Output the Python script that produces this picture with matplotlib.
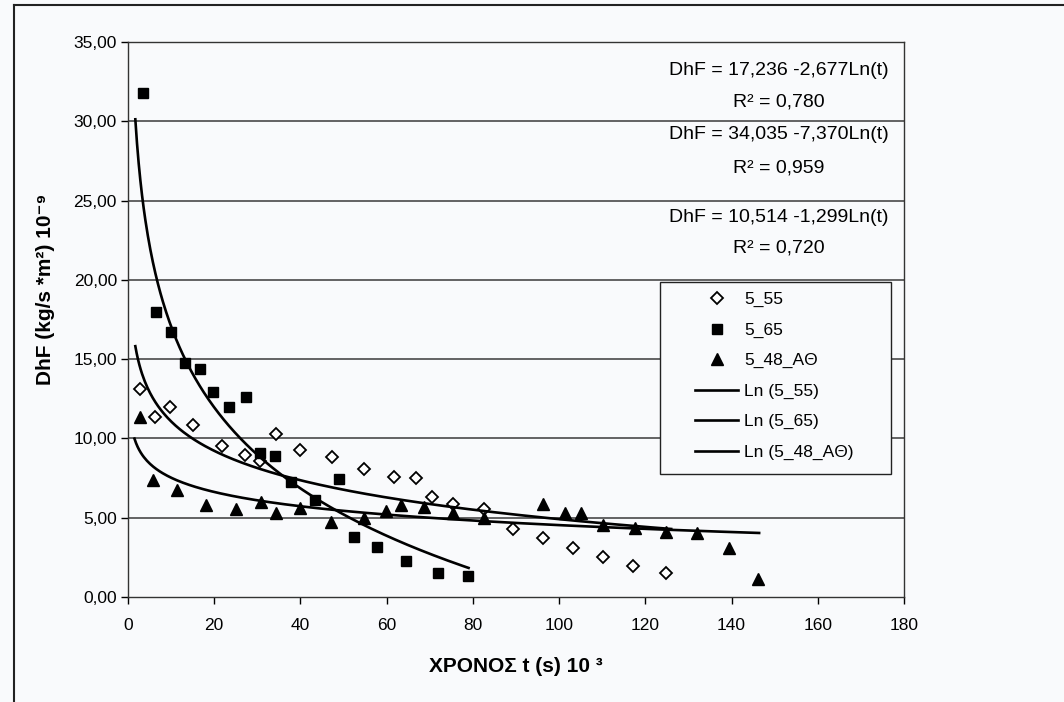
import numpy as np
import matplotlib.pyplot as plt
from matplotlib.patches import Rectangle
from matplotlib.lines import Line2D
from matplotlib.ticker import FuncFormatter

plt.rcParams['font.family'] = ['Liberation Sans', 'DejaVu Sans']

# --- data ---
t_555 = [2.75, 6.2, 9.7, 15.0, 21.8, 27.2, 30.6, 34.3, 39.9, 47.4, 54.7, 61.8,
         66.9, 70.6, 75.4, 82.5, 89.4, 96.3, 103.2, 110.1, 117.2, 124.8]
dhf_555 = [13.1, 11.35, 12.0, 10.85, 9.55, 8.95, 8.55, 10.3, 9.3, 8.85, 8.1, 7.55,
           7.5, 6.3, 5.85, 5.55, 4.3, 3.7, 3.1, 2.5, 1.95, 1.5]

t_565 = [3.4, 6.4, 9.9, 13.3, 16.8, 19.8, 23.4, 27.3, 30.6, 34.0, 37.9, 43.4,
         49.0, 52.4, 57.7, 64.6, 72.0, 78.9]
dhf_565 = [31.8, 18.0, 16.7, 14.75, 14.4, 12.9, 12.0, 12.6, 9.1, 8.9, 7.25, 6.1,
           7.45, 3.8, 3.15, 2.3, 1.5, 1.3]

t_548 = [2.75, 5.8, 11.3, 18.2, 25.1, 30.8, 34.3, 39.8, 47.1, 54.7, 59.8, 63.4,
         68.7, 75.4, 82.5, 96.3, 101.4, 105.1, 110.1, 117.5, 124.8, 132.0, 139.3, 146.2]
dhf_548 = [11.35, 7.4, 6.75, 5.8, 5.55, 6.0, 5.3, 5.6, 4.7, 5.0, 5.4, 5.8,
           5.7, 5.3, 5.0, 5.85, 5.3, 5.3, 4.55, 4.35, 4.1, 4.05, 3.1, 1.15]

series_names = ['5_55', '5_65', '5_48_AΘ']

# logarithmic trendlines as printed on the chart: DhF = a - b*Ln(t)
fit_a = [17.236, 34.035, 10.514]
fit_b = [2.677, 7.370, 1.299]
fit_r2 = [0.780, 0.959, 0.720]
fit_t_start = [1.7, 1.7, 1.5]
fit_t_end = [126.0, 79.0, 146.4]

x_ticks = [0, 20, 40, 60, 80, 100, 120, 140, 160, 180]
y_ticks = [0, 5, 10, 15, 20, 25, 30, 35]

bg = '#f9fafc'
fig = plt.figure(figsize=(10.64, 7.02), dpi=100, facecolor=bg)
ax = fig.add_axes([0.1203, 0.1496, 0.7293, 0.7906])
ax.set_facecolor(bg)

for y in y_ticks[1:-1]:
    ax.axhline(y, color='#3a3a3a', lw=1.1, zorder=1)

h_555, = ax.plot(t_555, dhf_555, ls='none', marker='D', ms=6.5, mfc='white',
                 mec='black', mew=1.3, zorder=3)
h_565, = ax.plot(t_565, dhf_565, ls='none', marker='s', ms=7.5, mfc='black',
                 mec='black', zorder=3)
h_548, = ax.plot(t_548, dhf_548, ls='none', marker='^', ms=8.5, mfc='black',
                 mec='black', zorder=3)

fit_handles = []
for a, b, t0, t1 in zip(fit_a, fit_b, fit_t_start, fit_t_end):
    tt = np.linspace(t0, t1, 400)
    ln_line, = ax.plot(tt, a - b * np.log(tt), color='black', lw=1.9, zorder=4)
    fit_handles.append(ln_line)

ax.set_xlim(0, 180)
ax.set_ylim(0, 35)
ax.set_xticks(x_ticks)
ax.set_yticks(y_ticks)
ax.yaxis.set_major_formatter(FuncFormatter(lambda v, p: f'{v:.2f}'.replace('.', ',')))
ax.tick_params(axis='both', direction='out', length=5, width=1, labelsize=12.5,
               colors='black')
ax.tick_params(axis='x', pad=10)
ax.tick_params(axis='y', pad=3)
for s in ax.spines.values():
    s.set_linewidth(1.0)
    s.set_color('#333333')

ax.set_xlabel('ΧΡΟΝΟΣ t (s) 10 ³', fontsize=15, fontweight='bold')
ax.xaxis.set_label_coords(0.5, -0.108)
ax.set_ylabel('DhF (kg/s *m²) 10⁻⁹', fontsize=15, fontweight='bold')
ax.yaxis.set_label_coords(-0.094, 0.555)

# trendline equations
eq_y = [(0.9495, 0.8919), (0.8324, 0.773), (0.6829, 0.6288)]
for a, b, r2, (y1, y2) in zip(fit_a, fit_b, fit_r2, eq_y):
    eq = f'DhF = {a:.3f} -{b:.3f}Ln(t)'.replace('.', ',')
    ax.text(0.839, y1, eq, transform=ax.transAxes, ha='center', va='center',
            fontsize=14, zorder=5)
    ax.text(0.839, y2, f'R² = {r2:.3f}'.replace('.', ','), transform=ax.transAxes,
            ha='center', va='center', fontsize=14, zorder=5)

# legend box
ax.add_patch(Rectangle((0.6856, 0.2216), 0.2976, 0.346, transform=ax.transAxes,
                       facecolor=bg, edgecolor='#222222', lw=1.0, zorder=6))
labels = series_names + [f'Ln ({n})' for n in series_names]
leg = ax.legend([h_555, h_565, h_548] + fit_handles, labels, loc='upper left',
                bbox_to_anchor=(0.7127, 0.5748), frameon=False, fontsize=12.5,
                handlelength=2.5, handletextpad=0.35, labelspacing=0.88,
                borderpad=0.3)
leg.set_zorder(7)

# scan frame
fig.add_artist(Line2D([14 / 1064, 14 / 1064], [0, 1 - 5 / 702], color='#222222', lw=1.5))
fig.add_artist(Line2D([14 / 1064, 1], [1 - 5 / 702, 1 - 5 / 702], color='#222222', lw=1.5))

fig.savefig('out.png', dpi=100, facecolor=bg)
